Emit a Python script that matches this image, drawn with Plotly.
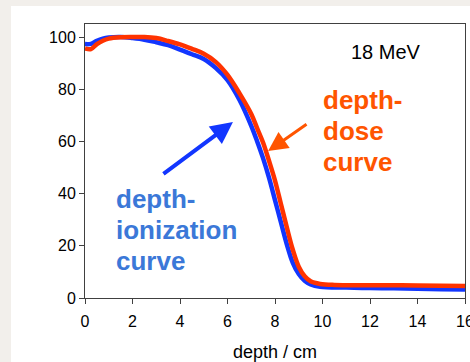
import plotly.graph_objects as go

# depth in cm, relative values in %
ion_depth = [0, 0.25, 0.5, 0.75, 1.0, 1.5, 2.0, 2.5, 3.0, 3.5, 4.0, 4.5, 5.0, 5.5, 6.0, 6.5,
             7.0, 7.25, 7.5, 7.75, 8.0, 8.25, 8.5, 8.75, 9.0, 9.25, 9.5, 9.9, 11, 12, 13, 14, 15, 16]
ion_value = [97.3, 97.4, 98.6, 99.4, 99.8, 100, 99.6, 99.0, 98.0, 96.9, 95.2, 93.4, 91.6, 88.2, 83.5, 76,
             66, 60, 53.5, 46, 37.5, 29, 20.5, 13.5, 9.2, 6.6, 5.2, 4.3, 4.0, 3.8, 3.7, 3.5, 3.4, 3.3]

dose_depth = [0, 0.25, 0.5, 0.75, 1.0, 1.5, 2.0, 2.5, 3.0, 3.5, 4.0, 4.5, 5.0, 5.5, 6.0, 6.5,
              7.0, 7.25, 7.5, 7.75, 8.0, 8.25, 8.5, 8.75, 9.0, 9.25, 9.5, 9.9, 10.5, 12, 14, 16]
dose_value = [95.7, 95.4, 97.3, 98.6, 99.4, 99.9, 100, 100, 99.6, 98.5, 97.2, 95.5, 93.6, 90.5, 85.5, 78.5,
              70.5, 65, 59.5, 52.5, 45, 36, 27, 18.5, 12, 8.3, 6.4, 5.4, 5.0, 4.9, 4.8, 4.6]

x_ticks = [0, 2, 4, 6, 8, 10, 12, 14, 16]
y_ticks = [0, 20, 40, 60, 80, 100]

dose_label = ["depth-", "dose", "curve"]
ion_label = ["depth-", "ionization", "curve"]

BLUE_LINE = "#1236ff"
RED_LINE = "#ff3300"
BLUE_TEXT = "#3b78d8"
ORANGE = "#ff5500"
FONT = "Liberation Sans, Arial, sans-serif"

fig = go.Figure()
fig.add_trace(go.Scatter(x=ion_depth, y=ion_value, mode="lines", line=dict(color=BLUE_LINE, width=4.5, shape="spline"),
                         name="depth-ionization curve"))
fig.add_trace(go.Scatter(x=dose_depth, y=dose_value, mode="lines", line=dict(color=RED_LINE, width=4.5, shape="spline"),
                         name="depth-dose curve"))

# white slide panel on a grey frame
fig.add_shape(type="rect", xref="paper", yref="paper", x0=(11 - 85) / 380, x1=1.2, y0=-0.3, y1=1 + 18 / 274,
              fillcolor="white", line=dict(width=0), layer="below")

fig.add_annotation(x=12.67, y=94.3, text="18 MeV", showarrow=False, font=dict(family=FONT, size=20, color="black"))

# multi-line labels, one annotation per line for tight spacing
for i, line in enumerate(dose_label):
    fig.add_annotation(x=9.95, y=75.8 - i * 11.9, text=line, showarrow=False, xanchor="left",
                       font=dict(family=FONT, size=26, color=ORANGE, weight="bold"))
for i, line in enumerate(ion_label):
    fig.add_annotation(x=1.2, y=38.0 - i * 11.9, text=line, showarrow=False, xanchor="left",
                       font=dict(family=FONT, size=26, color=BLUE_TEXT, weight="bold"))

# arrows
fig.add_annotation(x=6.23, y=67.4, ax=3.24, ay=47.1, axref="x", ayref="y", text="", showarrow=True,
                   arrowhead=2, arrowsize=1.1, arrowwidth=4, arrowcolor=BLUE_LINE)
fig.add_annotation(x=7.71, y=56.3, ax=9.39, ay=67.0, axref="x", ayref="y", text="", showarrow=True,
                   arrowhead=2, arrowsize=1.3, arrowwidth=3, arrowcolor=ORANGE)

fig.update_layout(
    width=470, height=362,
    margin=dict(l=85, r=5, t=24, b=64),
    paper_bgcolor="#f2efeb",
    plot_bgcolor="white",
    showlegend=False,
    font=dict(family=FONT, size=16, color="black"),
    xaxis=dict(range=[0, 16], tickvals=x_ticks, ticks="outside", ticklen=5, tickcolor="#404040",
               ticklabeloverflow="allow", ticklabelstandoff=4, automargin=False,
               showline=True, linecolor="#404040", linewidth=1, mirror=True, showgrid=False, zeroline=False,
               title=dict(text="depth / cm", font=dict(size=18), standoff=16)),
    yaxis=dict(range=[0, 105], tickvals=y_ticks, ticks="outside", ticklen=5, tickcolor="#404040",
               automargin=False,
               showline=True, linecolor="#404040", linewidth=1, mirror=True, showgrid=False, zeroline=False),
)

fig.write_html("out.html", config={"displayModeBar": False},
               post_script="document.body.style.margin='0';")
